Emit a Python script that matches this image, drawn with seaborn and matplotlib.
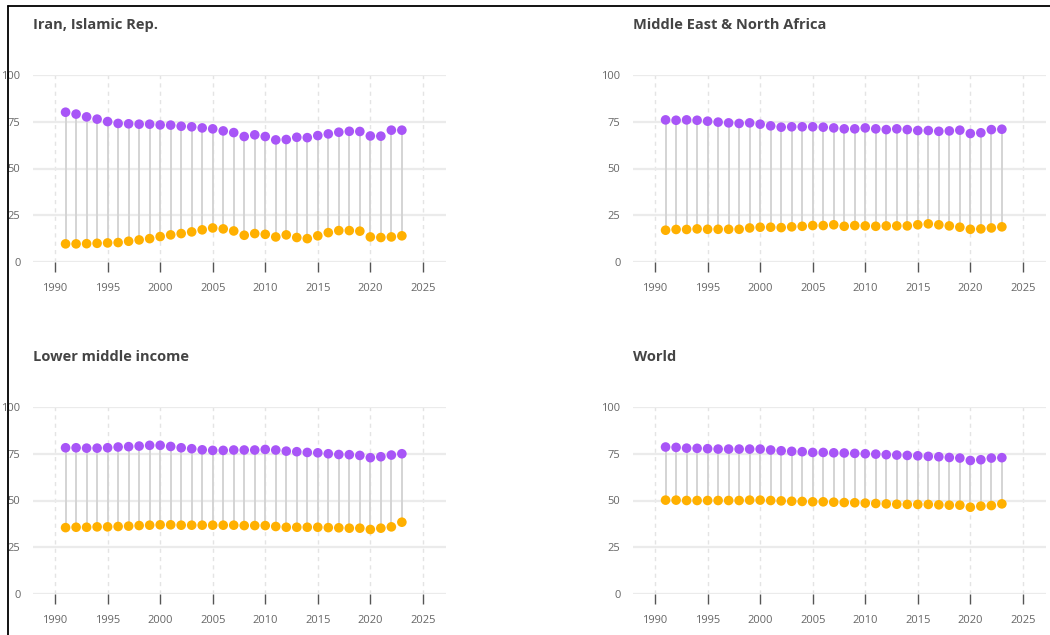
import numpy as np
import pandas as pd
import matplotlib
matplotlib.use("Agg")
import matplotlib.pyplot as plt
import seaborn as sns
from matplotlib.lines import Line2D

sns.set_theme(style="white")
plt.rcParams["font.family"] = ["Open Sans", "DejaVu Sans"]

# --- DATA ---
years = list(range(1991, 2024))

titles = ["Iran, Islamic Rep.", "Middle East & North Africa",
          "Lower middle income", "World"]

iran_hi = [80.1, 79.1, 77.6, 76.4, 75.1, 74.1, 73.9, 73.7, 73.7, 73.3, 73.2,
           72.6, 72.3, 71.7, 71.2, 70.1, 69.2, 67.1, 68.0, 67.1, 65.3, 65.5,
           66.7, 66.5, 67.6, 68.5, 69.4, 69.9, 69.8, 67.4, 67.3, 70.5, 70.5]
iran_lo = [9.7, 9.7, 9.8, 10.0, 10.2, 10.4, 11.1, 11.8, 12.5, 13.6, 14.5,
           15.2, 16.1, 17.2, 18.2, 17.7, 16.6, 14.3, 15.2, 14.8, 13.4, 14.5,
           13.1, 12.5, 14.0, 15.7, 16.8, 16.8, 16.5, 13.4, 13.1, 13.4, 14.0]

mena_hi = [76.0, 75.8, 76.0, 75.8, 75.3, 74.8, 74.4, 74.1, 74.4, 73.7, 72.8,
           72.1, 72.3, 72.3, 72.3, 72.1, 71.7, 71.2, 71.2, 71.7, 71.2, 70.8,
           71.2, 70.8, 70.3, 70.3, 69.9, 70.1, 70.5, 68.7, 69.1, 70.8, 71.0]
mena_lo = [17.0, 17.4, 17.4, 17.7, 17.5, 17.5, 17.5, 17.5, 18.2, 18.6, 18.6,
           18.4, 18.8, 19.1, 19.5, 19.5, 19.9, 19.1, 19.5, 19.3, 19.1, 19.3,
           19.3, 19.3, 19.9, 20.4, 19.9, 19.3, 18.6, 17.5, 17.7, 18.2, 18.8]

lmi_hi = [78.2, 78.2, 78.0, 78.0, 78.2, 78.6, 78.8, 79.1, 79.5, 79.5, 78.9,
          78.2, 77.7, 77.1, 76.8, 76.8, 77.0, 77.0, 77.0, 77.3, 77.0, 76.4,
          76.1, 75.7, 75.5, 75.0, 74.6, 74.5, 74.1, 72.9, 73.4, 74.3, 75.0]
lmi_lo = [35.5, 35.7, 35.7, 35.9, 35.9, 36.1, 36.3, 36.6, 36.8, 37.0, 37.0,
          36.8, 36.8, 36.8, 36.8, 36.8, 36.8, 36.6, 36.6, 36.6, 36.1, 35.7,
          35.7, 35.7, 35.7, 35.5, 35.4, 35.2, 35.2, 34.5, 35.2, 35.9, 38.4]

world_hi = [78.6, 78.4, 78.0, 77.9, 77.7, 77.5, 77.5, 77.5, 77.5, 77.5, 77.0,
            76.6, 76.3, 76.1, 75.7, 75.7, 75.5, 75.4, 75.2, 75.0, 74.8, 74.5,
            74.3, 74.1, 73.9, 73.6, 73.4, 73.0, 72.7, 71.4, 71.8, 72.7, 72.9]
world_lo = [50.2, 50.2, 50.0, 50.0, 50.0, 50.0, 50.0, 50.0, 50.2, 50.2, 50.0,
            49.8, 49.6, 49.5, 49.3, 49.3, 49.1, 48.9, 48.8, 48.6, 48.4, 48.2,
            48.0, 47.9, 47.9, 47.9, 47.7, 47.5, 47.5, 46.4, 47.0, 47.3, 48.2]

highs = [iran_hi, mena_hi, lmi_hi, world_hi]
lows = [iran_lo, mena_lo, lmi_lo, world_lo]

x_ticks = [1990, 1995, 2000, 2005, 2010, 2015, 2020, 2025]
y_ticks = [0, 25, 50, 75, 100]

PURPLE = "#a855f7"
ORANGE = "#ffb000"

# --- FIGURE ---
W, H = 1050, 635
fig = plt.figure(figsize=(W / 100, H / 100), dpi=100)
fig.patch.set_facecolor("white")

# panel boxes in pixels: left, top
boxes = [(33, 75), (633, 75), (33, 407), (633, 407)]
ax_w, ax_h = 413, 187

for (px, py), title, hi, lo in zip(boxes, titles, highs, lows):
    ax = fig.add_axes([px / W, (H - py - ax_h) / H, ax_w / W, ax_h / H])
    ax.set_facecolor("white")

    ax.vlines(years, lo, hi, color="#d4d4d4", linewidth=1.4, zorder=2)
    df = pd.DataFrame({"year": years + years, "value": hi + lo,
                       "series": ["hi"] * len(years) + ["lo"] * len(years)})
    sns.scatterplot(data=df, x="year", y="value", hue="series",
                    palette={"hi": PURPLE, "lo": ORANGE}, s=48,
                    edgecolor="none", legend=False, ax=ax, zorder=3,
                    clip_on=False)

    ax.set_xlim(1987.9, 2027.2)
    ax.set_ylim(0, 100)
    ax.set_xticks(x_ticks)
    ax.set_yticks(y_ticks)
    ax.set_xlabel("")
    ax.set_ylabel("")

    ax.yaxis.grid(True, color="#ebebeb", linewidth=1.6, linestyle="-")
    ax.xaxis.grid(True, color="#e4e4e4", linewidth=1.0, linestyle=(0, (3, 3)))
    ax.set_axisbelow(True)
    for sp in ax.spines.values():
        sp.set_visible(False)

    ax.tick_params(axis="x", which="major", bottom=True, length=7, width=1,
                   color="#555555", labelsize=8, labelcolor="#666666", pad=8)
    ax.tick_params(axis="y", which="major", left=False, labelsize=8,
                   labelcolor="#666666", pad=3)

    fig.text(px / W, (H - py + 50) / H, title, fontsize=10.5,
             fontweight="bold", color="#444444", ha="left", va="center")

# screenshot frame on top and left edges
fig.add_artist(Line2D([8 / W, 1], [1 - 6 / H, 1 - 6 / H], color="black",
                      linewidth=1.3, transform=fig.transFigure))
fig.add_artist(Line2D([8 / W, 8 / W], [0, 1 - 6 / H], color="black",
                      linewidth=1.3, transform=fig.transFigure))

fig.savefig("out.png", dpi=100, facecolor="white")
